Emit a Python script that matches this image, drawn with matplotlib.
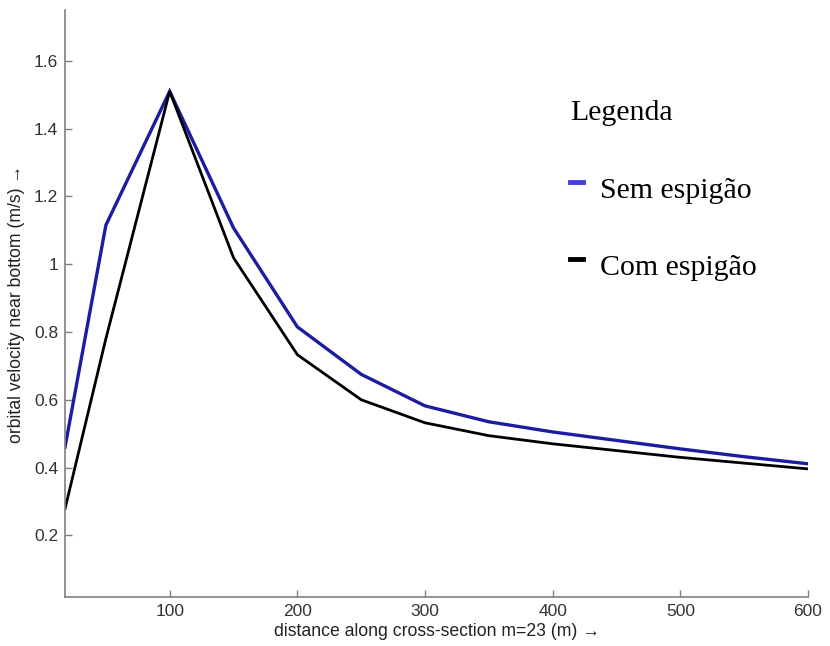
import matplotlib
matplotlib.use("Agg")
import matplotlib.pyplot as plt
from matplotlib.lines import Line2D
from matplotlib.legend_handler import HandlerLine2D

# Data
distance = [18, 50, 100, 150, 200, 250, 300, 350, 400, 450, 500, 550, 600]
sem_espigao = [0.46, 1.115, 1.51, 1.107, 0.815, 0.675, 0.582, 0.535, 0.505, 0.480, 0.455, 0.432, 0.411]
com_espigao = [0.278, 0.78, 1.51, 1.019, 0.733, 0.600, 0.532, 0.494, 0.470, 0.450, 0.430, 0.413, 0.396]
x_ticks = [100, 200, 300, 400, 500, 600]
y_ticks = [0.2, 0.4, 0.6, 0.8, 1.0, 1.2, 1.4, 1.6]
y_ticklabels = ["0.2", "0.4", "0.6", "0.8", "1", "1.2", "1.4", "1.6"]
legend_labels = ["Sem espigão", "Com espigão"]

plt.rcParams['font.family'] = ['Liberation Sans', 'DejaVu Sans']


class RaisedHandler(HandlerLine2D):
    def create_artists(self, legend, orig_handle, xdescent, ydescent,
                       width, height, fontsize, trans):
        return super().create_artists(legend, orig_handle, xdescent, ydescent - 8,
                                      width, height, fontsize, trans)


fig = plt.figure(figsize=(8.3, 6.46), dpi=100)
ax = fig.add_axes([65/830, 1-597/646, (808-65)/830, (597-10)/646])

ax.plot(distance, sem_espigao, color='#1c1ca0', lw=2.4, solid_joinstyle='miter')
ax.plot(distance, com_espigao, color='black', lw=2.0, solid_joinstyle='miter')

ax.set_xlim(18, 600)
ax.set_ylim(0.018, 1.75)
ax.set_xticks(x_ticks)
ax.set_yticks(y_ticks)
ax.set_yticklabels(y_ticklabels)

for s in ['top', 'right']:
    ax.spines[s].set_visible(False)
for s in ['left', 'bottom']:
    ax.spines[s].set_color('#808080')
    ax.spines[s].set_linewidth(1.2)
ax.tick_params(direction='in', length=5, width=1, color='#808080',
               labelsize=12.5, labelcolor='#333333', pad=5)

ax.set_xlabel("distance along cross-section m=23 (m) \u2192", fontsize=12.7, color='#222222', labelpad=3)
ax.set_ylabel("orbital velocity near bottom (m/s) \u2192", fontsize=12.7, color='#222222', labelpad=6)

handles = [Line2D([], [], color='#4040dd', lw=3.5), Line2D([], [], color='black', lw=3.5)]
leg = ax.legend(handles, legend_labels, title="Legenda", loc='upper left',
                bbox_to_anchor=(558/830, 1-88/646), bbox_transform=fig.transFigure,
                borderaxespad=0, frameon=False, handlelength=0.45, handletextpad=0.55,
                labelspacing=1.7,
                handler_map={Line2D: RaisedHandler()},
                prop={'family': 'Liberation Serif', 'size': 21.5},
                title_fontproperties={'family': 'Liberation Serif', 'size': 21.5})
leg._legend_box.align = 'left'

fig.savefig("out.png", dpi=100)
